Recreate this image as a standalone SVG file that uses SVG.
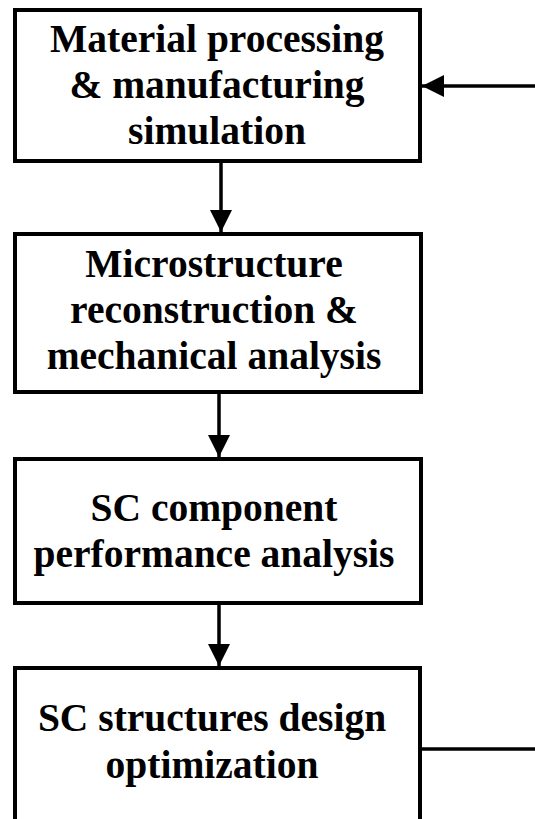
<svg xmlns="http://www.w3.org/2000/svg" width="535" height="819" viewBox="0 0 535 819">
  <style>
    .box { fill: #ffffff; stroke: #000000; stroke-width: 4; }
    .label { font-family: "Liberation Serif", "Times New Roman", serif; font-weight: bold; font-size: 39.5px; fill: #000000; text-anchor: middle; }
    .wire { fill: none; stroke: #000000; stroke-width: 3.5; }
  </style>
  <defs>
    <marker id="head" viewBox="0 0 22 22" refX="22" refY="11" markerWidth="22" markerHeight="22" markerUnits="userSpaceOnUse" orient="auto">
      <path d="M0,0 L22,11 L0,22 Z" fill="#000000"/>
    </marker>
  </defs>
  <rect width="535" height="819" fill="#ffffff"/>

  <g id="node-processing">
    <rect class="box" x="15" y="10" width="405" height="151"/>
    <text class="label" x="217" y="52">Material processing</text>
    <text class="label" x="217" y="98">&amp; manufacturing</text>
    <text class="label" x="217" y="144">simulation</text>
  </g>

  <g id="node-microstructure">
    <rect class="box" x="15" y="234" width="406" height="158"/>
    <text class="label" x="214" y="277">Microstructure</text>
    <text class="label" x="214" y="323">reconstruction &amp;</text>
    <text class="label" x="214" y="369">mechanical analysis</text>
  </g>

  <g id="node-component">
    <rect class="box" x="15" y="459" width="406" height="144"/>
    <text class="label" x="214" y="521">SC component</text>
    <text class="label" x="214" y="567">performance analysis</text>
  </g>

  <g id="node-optimization">
    <rect class="box" x="15" y="668" width="405" height="160"/>
    <text class="label" x="212" y="731">SC structures design</text>
    <text class="label" x="212" y="778">optimization</text>
  </g>

  <g id="connectors">
    <line class="wire" x1="221" y1="161" x2="221" y2="232" marker-end="url(#head)"/>
    <line class="wire" x1="219" y1="392" x2="219" y2="457" marker-end="url(#head)"/>
    <line class="wire" x1="219" y1="603" x2="219" y2="666" marker-end="url(#head)"/>
    <line class="wire" x1="420" y1="749" x2="535" y2="749"/>
    <line class="wire" x1="535" y1="86" x2="422" y2="86" marker-end="url(#head)"/>
  </g>
</svg>
